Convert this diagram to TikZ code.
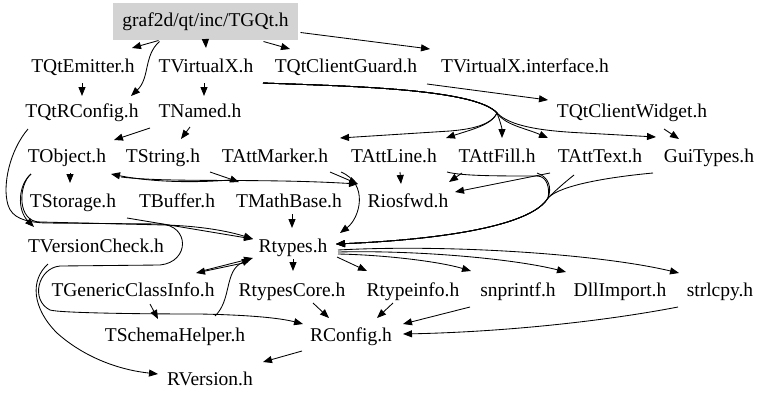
\documentclass[tikz,border=0pt]{standalone}
\usepackage{fontspec}
\setmainfont{Liberation Serif}
\usetikzlibrary{arrows.meta,calc}
\definecolor{rootgray}{RGB}{211,211,211}
\newcommand\hfont{\fontsize{19.5}{22}\selectfont}
\tikzset{
  hdr/.style={font=\hfont, inner sep=0pt, anchor=base},
  rootbox/.style={font=\hfont, inner sep=0pt, fill=rootgray, minimum width=185pt, minimum height=37pt},
  dep/.style={line width=0.85pt, -{Triangle[length=9pt,width=7pt]}}
}
\begin{document}
\begin{tikzpicture}[x=1pt,y=-1pt]
\useasboundingbox (0,0) rectangle (768,402);
\node[rootbox] (TGQt) at (205.5,21.5) {graf2d/qt/inc/TGQt.h};
\node[hdr] (TQtEmitter) at (83,72) {TQtEmitter.h};
\node[hdr] (TVirtualX) at (206,72) {TVirtualX.h};
\node[hdr] (TQtClientGuard) at (346,72) {TQtClientGuard.h};
\node[hdr] (TVXi) at (525,72) {TVirtualX.interface.h};
\node[hdr] (TQtRConfig) at (82,117) {TQtRConfig.h};
\node[hdr] (TNamed) at (200,117) {TNamed.h};
\node[hdr] (TQtClientWidget) at (632,117) {TQtClientWidget.h};
\node[hdr] (TObject) at (67,162) {TObject.h};
\node[hdr] (TString) at (163,162) {TString.h};
\node[hdr] (TAttMarker) at (275,162) {TAttMarker.h};
\node[hdr] (TAttLine) at (394,162) {TAttLine.h};
\node[hdr] (TAttFill) at (497,162) {TAttFill.h};
\node[hdr] (TAttText) at (600,162) {TAttText.h};
\node[hdr] (GuiTypes) at (709,162) {GuiTypes.h};
\node[hdr] (TStorage) at (73,207) {TStorage.h};
\node[hdr] (TBuffer) at (177,207) {TBuffer.h};
\node[hdr] (TMathBase) at (289,207) {TMathBase.h};
\node[hdr] (Riosfwd) at (408,207) {Riosfwd.h};
\node[hdr] (TVersionCheck) at (96,252) {TVersionCheck.h};
\node[hdr] (Rtypes) at (293,252) {Rtypes.h};
\node[hdr] (TGCI) at (133,296) {TGenericClassInfo.h};
\node[hdr] (RtypesCore) at (292,296) {RtypesCore.h};
\node[hdr] (Rtypeinfo) at (413,296) {Rtypeinfo.h};
\node[hdr] (snprintf) at (518,296) {snprintf.h};
\node[hdr] (DllImport) at (620,296) {DllImport.h};
\node[hdr] (strlcpy) at (720,296) {strlcpy.h};
\node[hdr] (TSchemaHelper) at (175,341) {TSchemaHelper.h};
\node[hdr] (RConfig) at (351,341) {RConfig.h};
\node[hdr] (RVersion) at (210,385) {RVersion.h};
\coordinate (vxb) at (497,113);
\coordinate (rtm) at (548,198);

% from TGQt.h
\draw[dep] ($(TGQt.center)+(-47,19)$) -- ($(TQtEmitter.base)+(49,-24)$);
\draw[dep] ($(TGQt.center)+(-46,20)$) .. controls +(-16,14) and +(19,-18) .. ($(TQtRConfig.base)+(49,-21)$);
\draw[dep] ($(TGQt.center)+(0,19)$) -- ($(TVirtualX.base)+(0,-24)$);
\draw[dep] ($(TGQt.center)+(58,20)$) -- ($(TQtClientGuard.base)+(-56,-23)$);
\draw[dep] ($(TGQt.center)+(95,11)$) -- ($(TVXi.base)+(-95,-23)$);
\draw[dep] ($(TQtEmitter.base)+(-1,11)$) -- ($(TQtRConfig.base)+(0,-21)$);
\draw[dep] ($(TVirtualX.base)+(-2,11)$) -- ($(TNamed.base)+(4,-21)$);

% TVirtualX.h fan
\draw[dep] ($(TVirtualX.base)+(57,11)$) .. controls +(77,3) and +(-22,-25) .. (vxb) .. controls +(-7,15) and +(10,-1) .. ++(-47,18) -- ($(TAttMarker.base)+(65,-24)$);
\draw[dep] ($(TVirtualX.base)+(57,11)$) .. controls +(77,3) and +(-22,-25) .. (vxb) .. controls +(-5,12) and +(24,-8) .. ($(TAttLine.base)+(52,-24)$);
\draw[dep] ($(TVirtualX.base)+(57,11)$) .. controls +(77,3) and +(-22,-25) .. (vxb) .. controls +(3,8) and +(0,-10) .. ($(TAttFill.base)+(5,-24)$);
\draw[dep] ($(TVirtualX.base)+(57,11)$) .. controls +(77,3) and +(-22,-25) .. (vxb) .. controls +(8,12) and +(-23,-10) .. ($(TAttText.base)+(-52,-24)$);
\draw[dep] ($(TVirtualX.base)+(57,11)$) .. controls +(77,3) and +(-22,-25) .. (vxb) .. controls +(13,13) and +(-44,-2) .. ++(87,20) -- ($(GuiTypes.base)+(-53,-25)$);

\draw[dep] ($(TQtClientGuard.base)+(81,12)$) -- ($(TQtClientWidget.base)+(-84,-17)$);
\draw[dep] ($(TQtClientWidget.base)+(32,12)$) -- ($(GuiTypes.base)+(-30,-23)$);
\draw[dep] ($(TNamed.base)+(-50,11)$) -- ($(TObject.base)+(47,-22)$);
\draw[dep] ($(TNamed.base)+(-10,10)$) -- ($(TString.base)+(18,-23)$);

% TQtRConfig.h -> RConfig.h (long loop)
\draw[dep] ($(TQtRConfig.base)+(-54,12)$) .. controls +(-18,21) and +(-6,-20) .. ++(-20,76)
  .. controls +(4,13) and +(-20,-1) .. ++(37,18) -- ++(115,1)
  .. controls +(30,1) and +(30,-3) .. ++(0,41) -- ++(-100,1)
  .. controls +(-22,2) and +(-20,-10) .. ++(-10,44)
  .. controls +(10,3) and +(-60,0) .. ++(150,4)
  .. controls +(50,1) and +(-23,-6) .. ($(RConfig.base)+(-48,-17)$);

% TObject.h
\draw[dep] ($(TObject.base)+(-36,12)$) .. controls +(-13,11) and +(-17,-17) .. ($(TVersionCheck.base)+(-62,-25)$);
\draw[dep] ($(TObject.base)+(-36,12)$) .. controls +(-13,11) and +(-23,0) .. ++(9,48) -- ++(125,3) .. controls +(35,1) and +(-25,-8) .. ($(Rtypes.base)+(-40,-13)$);
\draw[dep] ($(TObject.base)+(3,11)$) -- ($(TStorage.base)+(-3,-24)$);
\draw[dep] ($(TObject.base)+(54,15)$) .. controls +(50,6) and +(-100,-6) .. ($(Riosfwd.base)+(-50,-23)$);
\draw[dep] ($(TBuffer.base)+(53,-27)$) .. controls +(-50,4) and +(30,6) .. ($(TObject.base)+(44,12)$);
\draw[dep] ($(TString.base)+(47,10)$) -- ($(TMathBase.base)+(-50,-25)$);

% TAtt* and GuiTypes
\draw[dep] ($(TAttMarker.base)+(55,10)$) -- ($(Riosfwd.base)+(-50,-23)$);
\draw[dep] ($(TAttMarker.base)+(66,10)$) .. controls +(28,12) and +(20,-15) .. ($(Rtypes.base)+(47,-19)$);
\draw[dep] ($(TAttLine.base)+(6,10)$) -- ($(Riosfwd.base)+(-7,-23)$);
\draw[dep] ($(TAttLine.base)+(53,10)$) .. controls +(15,4) and +(-40,0) .. ++(90,4) .. controls +(10,0) and +(2,-10) .. (rtm) .. controls +(-18,30) and +(94,-4) .. ($(Rtypes.base)+(43,-8)$);
\draw[dep] ($(TAttFill.base)+(40,11)$) .. controls +(12,4) and +(4,-10) .. (rtm) .. controls +(-18,30) and +(94,-4) .. ($(Rtypes.base)+(43,-8)$);
\draw[dep] ($(TAttText.base)+(-26,13)$) .. controls +(-10,8) and +(8,-8) .. (rtm) .. controls +(-18,30) and +(94,-4) .. ($(Rtypes.base)+(43,-8)$);
\draw[dep] ($(GuiTypes.base)+(-56,11)$) .. controls +(-43,4) and +(12,-13) .. (rtm) .. controls +(-18,30) and +(94,-4) .. ($(Rtypes.base)+(43,-8)$);
\draw[dep] ($(TAttFill.base)+(-35,11)$) -- ($(Riosfwd.base)+(41,-25)$);
\draw[dep] ($(TAttText.base)+(-50,11)$) -- ($(Riosfwd.base)+(47,-15)$);

% into Rtypes.h
\draw[dep] ($(TMathBase.base)+(3,7)$) -- ($(Rtypes.base)+(-1,-24)$);
\draw[dep] ($(TStorage.base)+(54,11)$) -- ($(Rtypes.base)+(-40,-13)$);
\draw[dep] ($(Rtypes.base)+(-45,10)$) -- ($(TGCI.base)+(63,-23)$);
\draw[dep] ($(TGCI.base)+(69,-25)$) -- ($(Rtypes.base)+(-40,6)$);
\draw[dep] ($(TSchemaHelper.base)+(40,-25)$) .. controls +(17,-16) and +(-27,11) .. ($(Rtypes.base)+(-42,7)$);

% out of Rtypes.h
\draw[dep] ($(Rtypes.base)+(0,7)$) -- ($(RtypesCore.base)+(1,-25)$);
\draw[dep] ($(Rtypes.base)+(44,5)$) -- ($(Rtypeinfo.base)+(-46,-25)$);
\draw[dep] ($(Rtypes.base)+(45,2)$) .. controls +(50,1) and +(-30,-9) .. ($(snprintf.base)+(-47,-25)$);
\draw[dep] ($(Rtypes.base)+(45,0)$) .. controls +(80,-2) and +(-51,-13) .. ($(DllImport.base)+(-54,-24)$);
\draw[dep] ($(Rtypes.base)+(45,-2)$) .. controls +(110,-6) and +(-80,-19) .. ($(strlcpy.base)+(-41,-23)$);

% into RConfig.h / RVersion.h
\draw[dep] ($(RtypesCore.base)+(21,7)$) -- ($(RConfig.base)+(-22,-23)$);
\draw[dep] ($(Rtypeinfo.base)+(-20,7)$) -- ($(RConfig.base)+(26,-23)$);
\draw[dep] ($(snprintf.base)+(-48,11)$) -- ($(RConfig.base)+(52,-17)$);
\draw[dep] ($(strlcpy.base)+(-42,11)$) .. controls +(-78,15) and +(97,-2) .. ($(RConfig.base)+(52,-7)$);
\draw[dep] ($(RConfig.base)+(-49,10)$) -- ($(RVersion.base)+(53,-23)$);
\draw[dep] ($(TVersionCheck.base)+(-48,12)$) .. controls +(-18,16) and +(-25,-25) .. ++(9,69) .. controls +(28,25) and +(-38,-4) .. ($(RVersion.base)+(-52,-11)$);
\draw[dep] ($(TGCI.base)+(17,8)$) -- ($(TSchemaHelper.base)+(-17,-22)$);
\end{tikzpicture}
\end{document}
